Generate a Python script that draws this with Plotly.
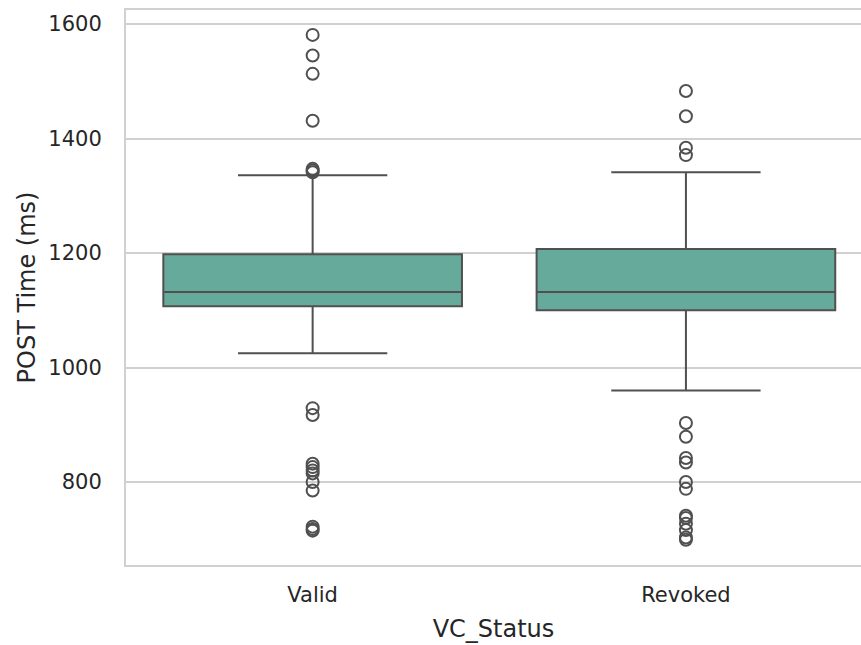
import plotly.graph_objects as go

# Category labels and their positions on the x axis
categories = ["Valid", "Revoked"]
positions = [0, 1]

# Five-number summaries of POST time (ms) per VC status
q1 = [1107, 1100]
median = [1132, 1132]
q3 = [1198, 1207]
lower_whisker = [1025, 960]
upper_whisker = [1336, 1341]

# Points beyond the whiskers
valid_outliers = [1581, 1545, 1513, 1431, 1347, 1344, 1341,
                  929, 917, 832, 826, 820, 815, 800, 785, 722, 718, 715]
revoked_outliers = [1483, 1439, 1384, 1371,
                    903, 879, 842, 834, 800, 788, 741, 737, 727, 716, 703, 699]

FILL = "#66aa9c"
LINE = "#505050"
GRID = "#d0d0d0"
TEXT = "#262626"
FONT = "DejaVu Sans"

fig = go.Figure()

fig.add_trace(go.Box(
    x=positions,
    q1=q1, median=median, q3=q3,
    lowerfence=lower_whisker, upperfence=upper_whisker,
    width=0.8,
    whiskerwidth=0.5,
    fillcolor=FILL,
    line=dict(color=LINE, width=2),
    boxpoints=False,
    showlegend=False,
    hoverinfo="skip",
))

outlier_x = [positions[0]] * len(valid_outliers) + [positions[1]] * len(revoked_outliers)
outlier_y = valid_outliers + revoked_outliers
fig.add_trace(go.Scatter(
    x=outlier_x, y=outlier_y,
    mode="markers",
    marker=dict(symbol="circle-open", size=12, color=LINE, line=dict(width=2, color=LINE)),
    showlegend=False,
    hoverinfo="skip",
))

fig.update_layout(
    width=861, height=645,
    margin=dict(l=126, r=0, t=10, b=80),
    paper_bgcolor="white",
    plot_bgcolor="white",
    font=dict(family=FONT, color=TEXT),
)

fig.update_xaxes(
    range=[-0.5, 1.469],
    tickmode="array", tickvals=positions, ticktext=categories,
    tickfont=dict(size=21, color=TEXT),
    ticks="", ticklabelstandoff=10,
    showgrid=False, zeroline=False,
    showline=True, linecolor=GRID, linewidth=2, mirror=True,
    title=dict(text="VC_Status", font=dict(size=24, color=TEXT), standoff=14),
)

fig.update_yaxes(
    range=[655, 1624.5],
    tickvals=[800, 1000, 1200, 1400, 1600],
    tickfont=dict(size=21, color=TEXT),
    ticks="", ticklabelstandoff=18,
    showgrid=True, gridcolor=GRID, gridwidth=2,
    zeroline=False,
    showline=True, linecolor=GRID, linewidth=2,
    title=dict(text="POST Time (ms)", font=dict(size=24, color=TEXT), standoff=6),
)

fig.write_html("out.html")
